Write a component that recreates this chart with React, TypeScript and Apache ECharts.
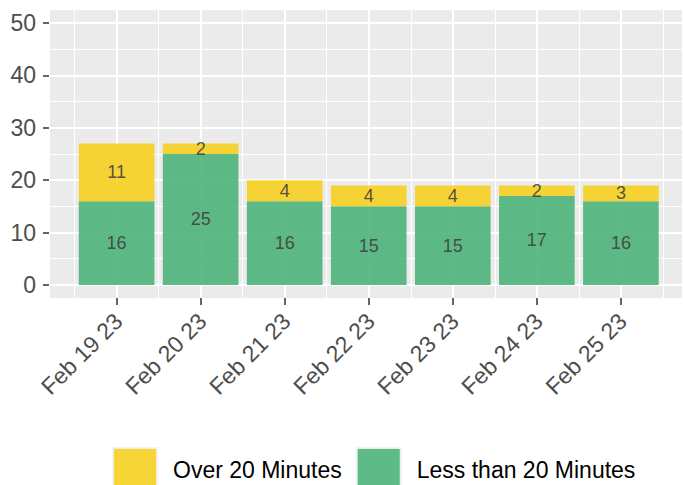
import React, { useEffect, useRef } from "react";
import * as echarts from "echarts";

const categories = ["Feb 19 23", "Feb 20 23", "Feb 21 23", "Feb 22 23", "Feb 23 23", "Feb 24 23", "Feb 25 23"];
const lessThan20 = [16, 25, 16, 15, 15, 17, 16];
const over20 = [11, 2, 4, 4, 4, 2, 3];
const yTicks = [0, 10, 20, 30, 40, 50];
const seriesNames = ["Over 20 Minutes", "Less than 20 Minutes"];

const FONT = "'Liberation Sans', Arial, Helvetica, sans-serif";

// layout (pixels)
const PANEL_LEFT = 49;
const PANEL_TOP = 10;
const PANEL_H = 288;
const STEP = 84.05;
const FIRST_CENTER = 116.6;

export default function App() {
  const ref = useRef<HTMLDivElement>(null);

  useEffect(() => {
    document.body.style.margin = "0";
    const chart = echarts.init(ref.current!, null, { renderer: "svg" });
    const W = 683;
    const xMin = (PANEL_LEFT - FIRST_CENTER) / STEP;
    const xMax = (W - FIRST_CENTER) / STEP;
    const barsLeft = FIRST_CENTER - STEP / 2;
    const barsWidth = STEP * categories.length;

    const labelStyle = {
      show: true,
      position: "inside",
      fontSize: 18,
      color: "#404040",
      fontFamily: FONT,
    };

    const option: any = {
      animation: false,
      backgroundColor: "#ffffff",
      textStyle: { fontFamily: FONT },
      grid: [
        {
          left: PANEL_LEFT,
          right: 0,
          top: PANEL_TOP,
          height: PANEL_H,
          show: true,
          backgroundColor: "#EBEBEB",
          borderWidth: 0,
        },
        {
          left: barsLeft,
          width: barsWidth,
          top: PANEL_TOP,
          height: PANEL_H,
          show: false,
        },
      ],
      xAxis: [
        {
          type: "value",
          gridIndex: 0,
          min: xMin,
          max: xMax,
          splitNumber: 7,
          axisLine: { show: false, onZero: false },
          axisTick: { show: false },
          axisLabel: { show: false },
          splitLine: { show: true, lineStyle: { color: "#ffffff", width: 2 } },
          minorTick: { show: false, splitNumber: 2 },
          minorSplitLine: { show: true, lineStyle: { color: "#ffffff", width: 1 } },
        },
        {
          type: "category",
          gridIndex: 1,
          data: categories,
          boundaryGap: true,
          axisLine: { show: false, onZero: false },
          axisTick: {
            show: true,
            alignWithLabel: true,
            length: 7,
            lineStyle: { color: "#333333", width: 1.5 },
          },
          axisLabel: {
            interval: 0,
            rotate: 45,
            margin: 21,
            padding: [5, -2.5, 0, 0],
            fontSize: 23,
            color: "#4D4D4D",
            fontFamily: FONT,
          },
          splitLine: { show: false },
        },
      ],
      yAxis: [
        {
          type: "value",
          gridIndex: 0,
          min: -2.5,
          max: 52.5,
          splitNumber: 5,
          axisLine: { show: false, onZero: false },
          axisTick: {
            show: true,
            customValues: yTicks,
            length: 6,
            lineStyle: { color: "#333333", width: 1.5 },
          },
          axisLabel: {
            customValues: yTicks,
            margin: 13,
            fontSize: 23,
            color: "#4D4D4D",
            fontFamily: FONT,
          },
          splitLine: { show: true, lineStyle: { color: "#ffffff", width: 2 } },
          minorTick: { show: false, splitNumber: 2 },
          minorSplitLine: { show: true, lineStyle: { color: "#ffffff", width: 1 } },
        },
        {
          type: "value",
          gridIndex: 1,
          min: -2.5,
          max: 52.5,
          show: false,
          splitLine: { show: false },
        },
      ],
      legend: {
        data: seriesNames,
        left: 112,
        top: 447,
        padding: 0,
        itemWidth: 44,
        itemHeight: 44,
        itemGap: 14,
        icon: "rect",
        itemStyle: { borderColor: "#F2F2F2", borderWidth: 2 },
        textStyle: {
          fontSize: 23,
          color: "#000000",
          fontFamily: FONT,
          padding: [0, 0, 0, 11],
        },
      },
      series: [
        {
          name: seriesNames[1],
          type: "bar",
          xAxisIndex: 1,
          yAxisIndex: 1,
          stack: "total",
          barWidth: "90%",
          data: lessThan20,
          itemStyle: { color: "rgb(77,178,121)", opacity: 0.9 },
          label: labelStyle,
        },
        {
          name: seriesNames[0],
          type: "bar",
          xAxisIndex: 1,
          yAxisIndex: 1,
          stack: "total",
          barWidth: "90%",
          data: over20,
          itemStyle: { color: "rgb(247,208,32)", opacity: 0.9 },
          label: labelStyle,
        },
      ],
    };
    chart.setOption(option);
    return () => chart.dispose();
  }, []);

  return (
    <div
      ref={ref}
      style={{ position: "absolute", left: 0, top: 0, width: 683, height: 485 }}
    />
  );
}
